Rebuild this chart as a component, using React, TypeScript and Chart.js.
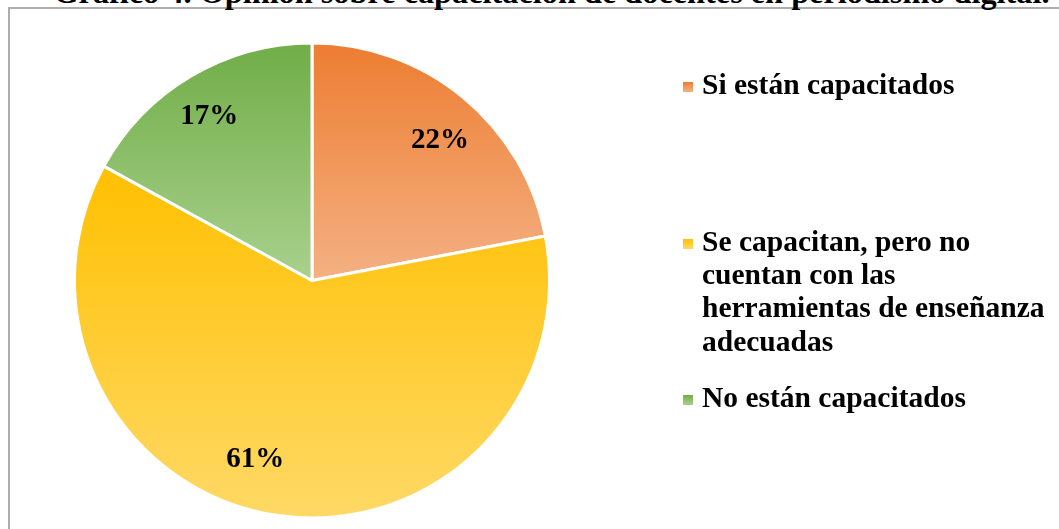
import React, { useEffect, useRef } from "react";
import { Chart, registerables } from "chart.js";

Chart.register(...registerables);

const TITLE = "Gráfico 4. Opinión sobre capacitación de docentes en periodismo digital.";
const categories: string[][] = [
  ["Si están capacitados"],
  ["Se capacitan, pero no", "cuentan con las", "herramientas de enseñanza", "adecuadas"],
  ["No están capacitados"],
];
const values: number[] = [22, 61, 17];
const topColors: string[] = ["#ED7D31", "#FFC000", "#70AD47"];
const bottomColors: string[] = ["#F4B183", "#FFD966", "#A9D18E"];

const FONT = '"Liberation Serif", "Times New Roman", Times, serif';

function sliceGradient(ctx: any) {
  const chart = ctx.chart;
  const i = ctx.dataIndex;
  const area = chart.chartArea;
  if (!area || i === undefined) return topColors[i ?? 0];
  const cx = (area.left + area.right) / 2;
  const cy = (area.top + area.bottom) / 2;
  const r = Math.min(area.width, area.height) / 2;
  const total = values.reduce((a, b) => a + b, 0);
  let before = 0;
  for (let k = 0; k < i; k++) before += values[k];
  const start = -Math.PI / 2 + (before / total) * Math.PI * 2;
  const end = start + (values[i] / total) * Math.PI * 2;
  const ys = [cy, cy + r * Math.sin(start), cy + r * Math.sin(end)];
  for (let k = -4; k <= 8; k++) {
    const a = (k * Math.PI) / 2;
    if (a > start && a < end) ys.push(cy + r * Math.sin(a));
  }
  const minY = Math.min(...ys);
  const maxY = Math.max(...ys);
  const g = chart.ctx.createLinearGradient(0, minY, 0, maxY);
  g.addColorStop(0, topColors[i]);
  g.addColorStop(1, bottomColors[i]);
  return g;
}

const pctLabels = {
  id: "pctLabels",
  afterDatasetsDraw(chart: any, _args: any, opts: any) {
    const meta = chart.getDatasetMeta(0);
    const ctx = chart.ctx;
    const total = values.reduce((a, b) => a + b, 0);
    ctx.save();
    ctx.font = `bold ${opts.size}px ${FONT}`;
    ctx.fillStyle = "#000000";
    ctx.textAlign = "center";
    ctx.textBaseline = "alphabetic";
    meta.data.forEach((arc: any, i: number) => {
      const p = arc.getProps(["x", "y", "startAngle", "endAngle", "outerRadius"], true);
      const mid = (p.startAngle + p.endAngle) / 2;
      const rr = p.outerRadius * opts.ratio;
      const n = opts.nudge[i] || [0, 0];
      const x = p.x + Math.cos(mid) * rr + n[0];
      const y = p.y + Math.sin(mid) * rr + n[1];
      ctx.fillText(Math.round((values[i] / total) * 100) + "%", x, y + opts.size * 0.34);
    });
    ctx.restore();
  },
};

function PieChart() {
  const ref = useRef<HTMLCanvasElement>(null);
  useEffect(() => {
    if (!ref.current) return;
    const chart = new Chart(ref.current, {
      type: "pie",
      data: {
        labels: categories.map((c) => c.join(" ")),
        datasets: [
          {
            data: values,
            backgroundColor: sliceGradient as any,
            borderColor: "#FFFFFF",
            borderWidth: 3,
          },
        ],
      },
      options: {
        responsive: false,
        animation: false,
        layout: { padding: { left: 73, right: 508, top: 41.5, bottom: 9.5 } },
        plugins: {
          legend: { display: false },
          title: { display: false },
          tooltip: { enabled: false },
          pctLabels: { size: 29, ratio: 0.8, nudge: [[7, 4], [-27, -11], [-6, -3]] },
        } as any,
      },
      plugins: [pctLabels],
    });
    return () => chart.destroy();
  }, []);
  return (
    <canvas
      ref={ref}
      width={1059}
      height={529}
      style={{ position: "absolute", left: 0, top: 0, width: 1059, height: 529 }}
    />
  );
}

const legendTops = [67.5, 224.5, 380.5];

export default function App() {
  return (
    <div
      style={{
        position: "fixed",
        left: 0,
        top: 0,
        width: 1059,
        height: 529,
        overflow: "hidden",
        background: "#FFFFFF",
        fontFamily: FONT,
      }}
    >
      <div
        style={{
          position: "absolute",
          left: 8,
          top: 7,
          width: 1200,
          height: 1000,
          border: "2px solid #ADADAD",
        }}
      />
      <div
        style={{
          position: "absolute",
          left: 0,
          width: 1103,
          top: -26.5,
          textAlign: "center",
          fontWeight: "bold",
          fontSize: 32.3,
          lineHeight: "36.8px",
          whiteSpace: "nowrap",
          color: "#000",
        }}
      >
        {TITLE}
      </div>
      <PieChart />
      {categories.map((lines, i) => (
        <div
          key={i}
          style={{
            position: "absolute",
            left: 683,
            top: legendTops[i],
            fontWeight: "bold",
            fontSize: 29.5,
            lineHeight: "33.4px",
            whiteSpace: "nowrap",
            color: "#000",
          }}
        >
          <span
            style={{
              position: "absolute",
              left: 0,
              top: 14,
              width: 10,
              height: 10,
              background: `linear-gradient(${topColors[i]}, ${bottomColors[i]})`,
            }}
          />
          <div style={{ marginLeft: 19 }}>
            {lines.map((l, k) => (
              <div key={k}>{l}</div>
            ))}
          </div>
        </div>
      ))}
    </div>
  );
}
